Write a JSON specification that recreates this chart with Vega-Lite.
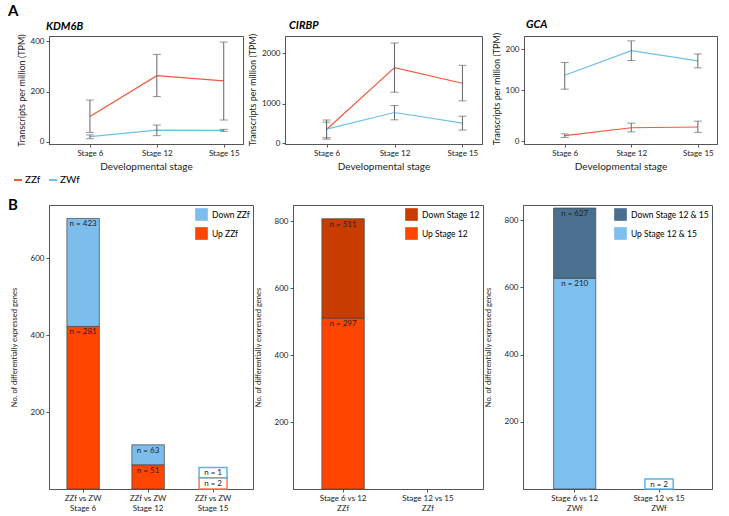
{
  "$schema": "https://vega.github.io/schema/vega-lite/v6.json",
  "background": "white",
  "padding": {"left": 8, "top": 3, "right": 5, "bottom": 2},
  "config": {
    "font": "Lato",
    "view": {"stroke": "#555", "strokeWidth": 1},
    "axis": {"labelFontSize": 8, "titleFontSize": 9, "titleFontWeight": "normal", "tickSize": 3, "labelPadding": 2, "domainColor": "#555", "tickColor": "#555", "labelColor": "#222", "titleColor": "#222", "grid": false}
  },
  "datasets": {
    "expr": [
      {"gene": "KDM6B", "stage": "Stage 6", "group": "ZZf", "mean": 101, "lo": 38, "hi": 166},
      {"gene": "KDM6B", "stage": "Stage 12", "group": "ZZf", "mean": 263, "lo": 180, "hi": 347},
      {"gene": "KDM6B", "stage": "Stage 15", "group": "ZZf", "mean": 242, "lo": 87, "hi": 396},
      {"gene": "KDM6B", "stage": "Stage 6", "group": "ZWf", "mean": 21, "lo": 13, "hi": 28},
      {"gene": "KDM6B", "stage": "Stage 12", "group": "ZWf", "mean": 47, "lo": 25, "hi": 67},
      {"gene": "KDM6B", "stage": "Stage 15", "group": "ZWf", "mean": 46, "lo": 42, "hi": 50},
      {"gene": "CIRBP", "stage": "Stage 6", "group": "ZZf", "mean": 495, "lo": 140, "hi": 683},
      {"gene": "CIRBP", "stage": "Stage 12", "group": "ZZf", "mean": 1712, "lo": 1229, "hi": 2196},
      {"gene": "CIRBP", "stage": "Stage 15", "group": "ZZf", "mean": 1405, "lo": 1059, "hi": 1758},
      {"gene": "CIRBP", "stage": "Stage 6", "group": "ZWf", "mean": 505, "lo": 195, "hi": 641},
      {"gene": "CIRBP", "stage": "Stage 12", "group": "ZWf", "mean": 830, "lo": 686, "hi": 967},
      {"gene": "CIRBP", "stage": "Stage 15", "group": "ZWf", "mean": 621, "lo": 471, "hi": 758},
      {"gene": "GCA", "stage": "Stage 6", "group": "ZZf", "mean": 10.5, "lo": 7, "hi": 14},
      {"gene": "GCA", "stage": "Stage 12", "group": "ZZf", "mean": 26, "lo": 18, "hi": 35},
      {"gene": "GCA", "stage": "Stage 15", "group": "ZZf", "mean": 27.5, "lo": 17, "hi": 39},
      {"gene": "GCA", "stage": "Stage 6", "group": "ZWf", "mean": 136, "lo": 102, "hi": 167},
      {"gene": "GCA", "stage": "Stage 12", "group": "ZWf", "mean": 196, "lo": 172, "hi": 220},
      {"gene": "GCA", "stage": "Stage 15", "group": "ZWf", "mean": 171, "lo": 154, "hi": 188}
    ],
    "deg": [
      {"panel": "ZZf vs ZW", "comparison": "ZZf vs ZW|Stage 6", "dir": "Up ZZf", "value": 423, "label": "n = 281"},
      {"panel": "ZZf vs ZW", "comparison": "ZZf vs ZW|Stage 6", "dir": "Down ZZf", "value": 281, "label": "n = 423"},
      {"panel": "ZZf vs ZW", "comparison": "ZZf vs ZW|Stage 12", "dir": "Up ZZf", "value": 63, "label": "n = 51"},
      {"panel": "ZZf vs ZW", "comparison": "ZZf vs ZW|Stage 12", "dir": "Down ZZf", "value": 52, "label": "n = 63"},
      {"panel": "ZZf vs ZW", "comparison": "ZZf vs ZW|Stage 15", "dir": "Up ZZf", "value": 29, "label": "n = 2"},
      {"panel": "ZZf vs ZW", "comparison": "ZZf vs ZW|Stage 15", "dir": "Down ZZf", "value": 27, "label": "n = 1"},
      {"panel": "ZZf", "comparison": "Stage 6 vs 12|ZZf", "dir": "Up Stage 12", "value": 511, "label": "n = 297"},
      {"panel": "ZZf", "comparison": "Stage 6 vs 12|ZZf", "dir": "Down Stage 12", "value": 297, "label": "n = 511"},
      {"panel": "ZWf", "comparison": "Stage 6 vs 12|ZWf", "dir": "Up Stage 12 & 15", "value": 627, "label": "n = 210"},
      {"panel": "ZWf", "comparison": "Stage 6 vs 12|ZWf", "dir": "Down Stage 12 & 15", "value": 209, "label": "n = 627"},
      {"panel": "ZWf", "comparison": "Stage 12 vs 15|ZWf", "dir": "Up Stage 12 & 15", "value": 30, "label": "n = 2"}
    ]
  },
  "vconcat": [
    {
      "title": {"text": "A", "anchor": "start", "frame": "group", "fontSize": 15, "fontWeight": "bold", "dx": -41, "offset": 0},
      "bounds": "flush",
      "spacing": 42,
      "resolve": {"scale": {"color": "independent"}},
      "hconcat": [
        {
          "width": 194, "height": 108,
          "title": {"text": "KDM6B", "anchor": "start", "frame": "group", "dx": -3, "fontSize": 11, "fontWeight": "bold", "fontStyle": "italic", "offset": 2},
          "data": {"name": "expr"},
          "transform": [{"filter": "datum.gene === 'KDM6B'"}],
          "encoding": {
            "x": {"field": "stage", "type": "ordinal", "sort": ["Stage 6", "Stage 12", "Stage 15"], "scale": {"type": "point", "padding": 0.45, "align": 0.68}, "axis": {"title": "Developmental stage", "labelAngle": 0, "titleFontSize": 10, "titlePadding": 4}}
          },
          "layer": [
            {"mark": {"type": "line", "strokeWidth": 1.2}, "encoding": {"y": {"field": "mean", "type": "quantitative", "scale": {"domain": [-8, 420], "nice": false, "zero": false}, "axis": {"values": [0, 100, 200, 300, 400], "title": "Transcripts per million (TPM)"}}, "color": {"field": "group", "type": "nominal", "scale": {"domain": ["ZZf", "ZWf"], "range": ["#EE5A3E", "#6CC0EC"]}, "legend": {"title": null, "orient": "none", "legendX": -36, "legendY": 139, "direction": "horizontal", "symbolType": "stroke", "symbolStrokeWidth": 2, "symbolSize": 64, "labelFontSize": 10, "labelOffset": 2, "columnPadding": 4, "padding": 0}}}},
            {"mark": {"type": "rule", "color": "#666", "strokeWidth": 1}, "encoding": {"y": {"field": "lo", "type": "quantitative"}, "y2": {"field": "hi"}}},
            {"mark": {"type": "tick", "color": "#666", "thickness": 1, "size": 8}, "encoding": {"y": {"field": "lo", "type": "quantitative"}}},
            {"mark": {"type": "tick", "color": "#666", "thickness": 1, "size": 8}, "encoding": {"y": {"field": "hi", "type": "quantitative"}}}
          ]
        },
        {
          "width": 197, "height": 108,
          "title": {"text": "CIRBP", "anchor": "start", "frame": "group", "dx": 4, "fontSize": 11, "fontWeight": "bold", "fontStyle": "italic", "offset": 2},
          "data": {"name": "expr"},
          "transform": [{"filter": "datum.gene === 'CIRBP'"}],
          "encoding": {
            "x": {"field": "stage", "type": "ordinal", "sort": ["Stage 6", "Stage 12", "Stage 15"], "scale": {"type": "point", "padding": 0.45, "align": 0.68}, "axis": {"title": "Developmental stage", "labelAngle": 0, "titleFontSize": 10, "titlePadding": 4}}
          },
          "layer": [
            {"mark": {"type": "line", "strokeWidth": 1.2}, "encoding": {"y": {"field": "mean", "type": "quantitative", "scale": {"domain": [0, 500, 2000, 2333], "range": [107, 93.3, 17, 0], "nice": false, "zero": false}, "axis": {"values": [0, 500, 1000, 1500, 2000], "format": "d", "title": "Transcripts per million (TPM)"}}, "color": {"field": "group", "type": "nominal", "scale": {"domain": ["ZZf", "ZWf"], "range": ["#EE5A3E", "#6CC0EC"]}, "legend": null}}},
            {"mark": {"type": "rule", "color": "#666", "strokeWidth": 1}, "encoding": {"y": {"field": "lo", "type": "quantitative"}, "y2": {"field": "hi"}}},
            {"mark": {"type": "tick", "color": "#666", "thickness": 1, "size": 8}, "encoding": {"y": {"field": "lo", "type": "quantitative"}}},
            {"mark": {"type": "tick", "color": "#666", "thickness": 1, "size": 8}, "encoding": {"y": {"field": "hi", "type": "quantitative"}}}
          ]
        },
        {
          "width": 193, "height": 108,
          "title": {"text": "GCA", "anchor": "start", "frame": "group", "dx": 2, "fontSize": 11, "fontWeight": "bold", "fontStyle": "italic", "offset": 2},
          "data": {"name": "expr"},
          "transform": [{"filter": "datum.gene === 'GCA'"}],
          "encoding": {
            "x": {"field": "stage", "type": "ordinal", "sort": ["Stage 6", "Stage 12", "Stage 15"], "scale": {"type": "point", "padding": 0.45, "align": 0.68}, "axis": {"title": "Developmental stage", "labelAngle": 0, "titleFontSize": 10, "titlePadding": 4}}
          },
          "layer": [
            {"mark": {"type": "line", "strokeWidth": 1.2}, "encoding": {"y": {"field": "mean", "type": "quantitative", "scale": {"domain": [0, 100, 200, 232], "range": [105, 54, 13, 0], "nice": false, "zero": false}, "axis": {"values": [0, 100, 200], "title": "Transcripts per million (TPM)"}}, "color": {"field": "group", "type": "nominal", "scale": {"domain": ["ZZf", "ZWf"], "range": ["#EE5A3E", "#6CC0EC"]}, "legend": null}}},
            {"mark": {"type": "rule", "color": "#666", "strokeWidth": 1}, "encoding": {"y": {"field": "lo", "type": "quantitative"}, "y2": {"field": "hi"}}},
            {"mark": {"type": "tick", "color": "#666", "thickness": 1, "size": 8}, "encoding": {"y": {"field": "lo", "type": "quantitative"}}},
            {"mark": {"type": "tick", "color": "#666", "thickness": 1, "size": 8}, "encoding": {"y": {"field": "hi", "type": "quantitative"}}}
          ]
        }
      ]
    },
    {
      "title": {"text": "B", "anchor": "start", "frame": "group", "fontSize": 15, "fontWeight": "bold", "dx": -41, "offset": -8},
      "bounds": "flush",
      "spacing": 40,
      "resolve": {"scale": {"color": "independent", "stroke": "independent"}},
      "hconcat": [
        {
          "width": 204, "height": 284,
          "data": {"name": "deg"},
          "transform": [{"filter": "datum.panel === 'ZZf vs ZW'"}, {"stack": "value", "groupby": ["comparison"], "sort": [{"field": "dir", "order": "descending"}], "as": ["y0", "y1"]}],
          "encoding": {
            "x": {"field": "comparison", "type": "nominal", "sort": ["ZZf vs ZW|Stage 6", "ZZf vs ZW|Stage 12", "ZZf vs ZW|Stage 15"], "scale": {"paddingInner": 0.5, "paddingOuter": 0.32, "align": 0.43}, "axis": {"title": null, "labelAngle": 0, "labelExpr": "split(datum.label, '|')", "labelFontSize": 8}}
          },
          "layer": [
            {"transform": [{"filter": "datum.value >= 40"}], "mark": {"type": "bar", "stroke": "#444", "strokeWidth": 0.7}, "encoding": {"y": {"field": "y0", "type": "quantitative", "scale": {"domain": [0, 739], "nice": false}, "axis": {"values": [200, 400, 600], "title": "No. of differentially expressed genes", "titleFontSize": 7.5, "labelFontSize": 8, "titlePadding": 12}}, "y2": {"field": "y1"}, "color": {"field": "dir", "type": "nominal", "scale": {"domain": ["Down ZZf", "Up ZZf"], "range": ["#7DBDEB", "#FF4500"]}, "legend": {"title": null, "orient": "top-right", "offset": 3, "symbolType": "square", "symbolSize": 160, "symbolStrokeWidth": 0, "labelFontSize": 8.5, "rowPadding": 6}}}},
            {"transform": [{"filter": "datum.value < 40"}], "mark": {"type": "bar", "fill": "white", "strokeWidth": 1.5, "width": {"band": 0.86}}, "encoding": {"y": {"field": "y0", "type": "quantitative"}, "y2": {"field": "y1"}, "stroke": {"field": "dir", "type": "nominal", "scale": {"domain": ["Down ZZf", "Up ZZf"], "range": ["#5AB4E8", "#F47A5A"]}, "legend": null}}},
            {"mark": {"type": "text", "baseline": "top", "dy": 2, "fontSize": 8, "color": "#222"}, "encoding": {"y": {"field": "y1", "type": "quantitative"}, "text": {"field": "label"}}}
          ]
        },
        {
          "width": 190, "height": 284,
          "data": {"name": "deg"},
          "transform": [{"filter": "datum.panel === 'ZZf'"}, {"stack": "value", "groupby": ["comparison"], "sort": [{"field": "dir", "order": "descending"}], "as": ["y0", "y1"]}],
          "encoding": {
            "x": {"field": "comparison", "type": "nominal", "sort": ["Stage 6 vs 12|ZZf", "Stage 12 vs 15|ZZf"], "scale": {"domain": ["Stage 6 vs 12|ZZf", "Stage 12 vs 15|ZZf"], "paddingInner": 0.5, "paddingOuter": 0.37, "align": 0.46}, "axis": {"title": null, "labelAngle": 0, "labelExpr": "split(datum.label, '|')", "labelFontSize": 8}}
          },
          "layer": [
            {"mark": {"type": "bar", "stroke": "#444", "strokeWidth": 0.7}, "encoding": {"y": {"field": "y0", "type": "quantitative", "scale": {"domain": [0, 849], "nice": false}, "axis": {"values": [200, 400, 600, 800], "title": "No. of differentially expressed genes", "titleFontSize": 7.5, "labelFontSize": 8, "titlePadding": 12}}, "y2": {"field": "y1"}, "color": {"field": "dir", "type": "nominal", "scale": {"domain": ["Down Stage 12", "Up Stage 12"], "range": ["#C93C00", "#FF4500"]}, "legend": {"title": null, "orient": "top-right", "offset": 3, "symbolType": "square", "symbolSize": 160, "symbolStrokeWidth": 0, "labelFontSize": 8.5, "rowPadding": 6}}}},
            {"mark": {"type": "text", "baseline": "top", "dy": 2, "fontSize": 8, "color": "#222"}, "encoding": {"y": {"field": "y1", "type": "quantitative"}, "text": {"field": "label"}}}
          ]
        },
        {
          "width": 189, "height": 284,
          "data": {"name": "deg"},
          "transform": [{"filter": "datum.panel === 'ZWf'"}, {"stack": "value", "groupby": ["comparison"], "sort": [{"field": "dir", "order": "descending"}], "as": ["y0", "y1"]}],
          "encoding": {
            "x": {"field": "comparison", "type": "nominal", "sort": ["Stage 6 vs 12|ZWf", "Stage 12 vs 15|ZWf"], "scale": {"paddingInner": 0.5, "paddingOuter": 0.37, "align": 0.49}, "axis": {"title": null, "labelAngle": 0, "labelExpr": "split(datum.label, '|')", "labelFontSize": 8}}
          },
          "layer": [
            {"transform": [{"filter": "datum.value >= 40"}], "mark": {"type": "bar", "stroke": "#444", "strokeWidth": 0.7}, "encoding": {"y": {"field": "y0", "type": "quantitative", "scale": {"domain": [0, 845], "nice": false}, "axis": {"values": [200, 400, 600, 800], "title": "No. of differentially expressed genes", "titleFontSize": 7.5, "labelFontSize": 8, "titlePadding": 12}}, "y2": {"field": "y1"}, "color": {"field": "dir", "type": "nominal", "scale": {"domain": ["Down Stage 12 & 15", "Up Stage 12 & 15"], "range": ["#4A6F8F", "#7DBFEE"]}, "legend": {"title": null, "orient": "top-right", "offset": 3, "symbolType": "square", "symbolSize": 160, "symbolStrokeWidth": 0, "labelFontSize": 8.5, "rowPadding": 6}}}},
            {"transform": [{"filter": "datum.value < 40"}], "mark": {"type": "bar", "fill": "white", "strokeWidth": 1.5, "width": {"band": 0.67}}, "encoding": {"y": {"field": "y0", "type": "quantitative"}, "y2": {"field": "y1"}, "stroke": {"field": "dir", "type": "nominal", "scale": {"domain": ["Down Stage 12 & 15", "Up Stage 12 & 15"], "range": ["#4A6F8F", "#5AB4E8"]}, "legend": null}}},
            {"mark": {"type": "text", "baseline": "top", "dy": 2, "fontSize": 8, "color": "#222"}, "encoding": {"y": {"field": "y1", "type": "quantitative"}, "text": {"field": "label"}}}
          ]
        }
      ]
    }
  ],
  "spacing": 11
}
